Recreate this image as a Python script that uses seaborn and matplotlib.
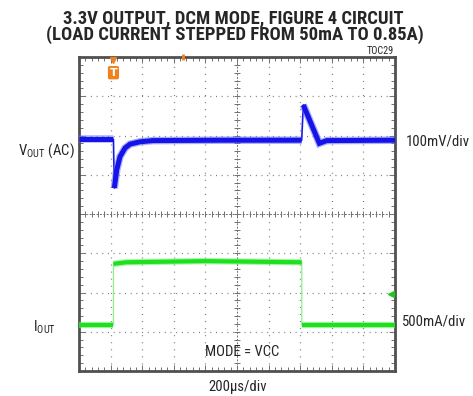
import matplotlib
matplotlib.use("Agg")
import matplotlib.pyplot as plt
from matplotlib import font_manager
import numpy as np
import pandas as pd
import seaborn as sns

# scope screen: 10 horizontal divisions, 8 vertical divisions
# V_OUT (AC) trace, in divisions (segments split at the fast edges)
vout_t = [0.0, 1.09, 1.117, 1.193, 1.297, 1.456, 1.614, 1.93, 2.34, 4.5, 7.047, 7.098, 7.605, 7.84, 10.0]
vout_v = [5.90, 5.90, 4.66, 5.12, 5.46, 5.68, 5.78, 5.84, 5.87, 5.88, 5.88, 6.78, 5.80, 5.87, 5.88]
vout_seg = [0, 0, 1, 1, 1, 1, 1, 1, 1, 1, 1, 2, 2, 2, 2]

# I_OUT trace, in divisions
iout_t = [0.0, 1.09, 1.09, 1.5, 4.0, 7.05, 7.05, 10.0]
iout_v = [1.17, 1.17, 2.73, 2.77, 2.80, 2.77, 1.17, 1.17]
iout_seg = [0, 0, 1, 1, 1, 1, 2, 2]

trigger_t = 1.09
n_xdiv, n_ydiv = 10, 8

sns.set_style("white")

# prefer a narrow face (the original uses Arial Narrow)
installed = font_manager.fontManager.ttflist
narrow = None
for fam in ['Liberation Sans Narrow', 'Roboto Condensed', 'Open Sans Condensed']:
    if any(f.name == fam for f in installed):
        narrow = fam
        break
if narrow is None:
    for f in installed:
        if f.stretch in ('condensed', 'semi-condensed') and f.name in ('DejaVu Sans', 'Open Sans', 'Roboto', 'Noto Sans'):
            narrow = f.name
            plt.rcParams['font.stretch'] = f.stretch
            break
plt.rcParams['font.family'] = ([narrow] if narrow else []) + ['Liberation Sans', 'DejaVu Sans']

W, H = 473, 396
fig = plt.figure(figsize=(W / 100, H / 100), dpi=100)
ax = fig.add_axes([79 / W, 1 - 371 / H, 316 / W, 314 / H])

# dotted graticule
for x in range(1, n_xdiv):
    if x != 5:
        ax.axvline(x, color='#7a7a7a', lw=0.9, ls=(0, (0.8, 4.85)), zorder=1)
for y in range(1, n_ydiv):
    if y != 4:
        ax.axhline(y, color='#7a7a7a', lw=0.9, ls=(0, (0.8, 3.75)), zorder=1)

# centre cross with sub-division ticks
sub_x = np.arange(0, n_xdiv + 0.01, 0.2)
sub_y = np.arange(0, n_ydiv + 0.01, 0.2)
ax.plot(sub_x, np.full_like(sub_x, 4.0), color='#707070', lw=0.7, ls=(0, (2, 1.5)),
        marker='|', ms=4, mew=0.7, zorder=1)
ax.plot(np.full_like(sub_y, 5.0), sub_y, color='#707070', lw=0.7, ls=(0, (2, 1.5)),
        marker='_', ms=4, mew=0.7, zorder=1)

vdf = pd.DataFrame({'t': vout_t, 'v': vout_v, 'seg': vout_seg})
idf = pd.DataFrame({'t': iout_t, 'v': iout_v, 'seg': iout_seg})

# thin edges, then thick noisy band on the flat parts
sns.lineplot(data=vdf, x='t', y='v', estimator=None, sort=False, color='#1a1ae8',
             lw=1.2, ax=ax, zorder=3)
sns.lineplot(data=vdf, x='t', y='v', units='seg', estimator=None, sort=False,
             color='#6a6aff', lw=5.4, alpha=0.55, solid_capstyle='butt',
             solid_joinstyle='miter', ax=ax, zorder=3)
sns.lineplot(data=vdf, x='t', y='v', units='seg', estimator=None, sort=False,
             color='#1414e6', lw=3.6, solid_capstyle='butt', solid_joinstyle='miter',
             ax=ax, zorder=4)

sns.lineplot(data=idf, x='t', y='v', estimator=None, sort=False, color='#8cf08c',
             lw=0.9, ax=ax, zorder=3)
sns.lineplot(data=idf, x='t', y='v', units='seg', estimator=None, sort=False,
             color='#70f070', lw=4.6, alpha=0.6, solid_capstyle='butt', ax=ax, zorder=3)
sns.lineplot(data=idf, x='t', y='v', units='seg', estimator=None, sort=False,
             color='#1ee01e', lw=3.0, solid_capstyle='butt', ax=ax, zorder=4)

# trigger marker and level arrows
orange = '#f0821e'
ax.text(trigger_t, 7.60, 'T', ha='center', va='center', color='white', fontsize=8,
        fontweight='bold', family='DejaVu Sans',
        bbox=dict(boxstyle='round,pad=0.15', fc=orange, ec='none'), zorder=6)
ax.plot(trigger_t, 7.92, marker='v', color=orange, ms=5, zorder=6)
ax.plot(3.29, 8.0, marker='|', color=orange, ms=4, mew=2, clip_on=False, zorder=6)
ax.plot(9.87, 1.96, marker='<', color='#1ec81e', ms=4, zorder=6)

ax.set_xlim(0, n_xdiv)
ax.set_ylim(0, n_ydiv)
ax.set_xticks(range(0, n_xdiv + 1))
ax.set_yticks(range(0, n_ydiv + 1))
ax.set_xticks(sub_x, minor=True)
ax.set_yticks(sub_y, minor=True)
ax.tick_params(which='both', direction='in', top=True, right=True, bottom=True, left=True,
               labelbottom=False, labelleft=False, color='#707070', width=0.7)
ax.tick_params(which='major', length=4)
ax.tick_params(which='minor', length=3)
ax.set_xlabel('')
ax.set_ylabel('')
for s in ax.spines.values():
    s.set_color('#505050')
    s.set_linewidth(2.0)


def fx(px):
    return px / W


def fy(py):
    return 1 - py / H


# (text, centre x px, centre y px, approx width px in the original)
titles = [
    ('3.3V OUTPUT, DCM MODE, FIGURE 4 CIRCUIT', 233, 18, 340),
    ('(LOAD CURRENT STEPPED FROM 50mA TO 0.85A)', 234.5, 35, 375),
]
labels = [
    (r'V$_{\mathregular{OUT}}$ (AC)', 46, 151, 57),
    ('100mV/div', 438, 141, 58),
    ('500mA/div', 434, 322, 61),
    ('MODE = VCC', 242, 352, 83),
    ('200µs/div', 238, 386.5, 58),
]


def add_group(items, bold):
    made = [fig.text(fx(x), fy(y), s, ha='center', va='center', fontsize=10,
                     fontweight='bold' if bold else 'normal') for s, x, y, w in items]
    fig.canvas.draw()
    r = fig.canvas.get_renderer()
    have = sum(t.get_window_extent(r).width for t in made)
    want = sum(it[3] for it in items)
    # one common size for the group, fitted to the original widths
    for t in made:
        t.set_fontsize(10 * want / have)
    return made[0].get_fontsize()


add_group(titles, True)
size = add_group(labels, False)
fig.text(fx(44), fy(327), r'I$_{\mathregular{OUT}}$', ha='center', va='center', fontsize=size)
fig.text(fx(380.5), fy(50.5), 'TOC29', ha='center', va='center', fontsize=size * 0.68)

plt.savefig('out.png', dpi=100)
